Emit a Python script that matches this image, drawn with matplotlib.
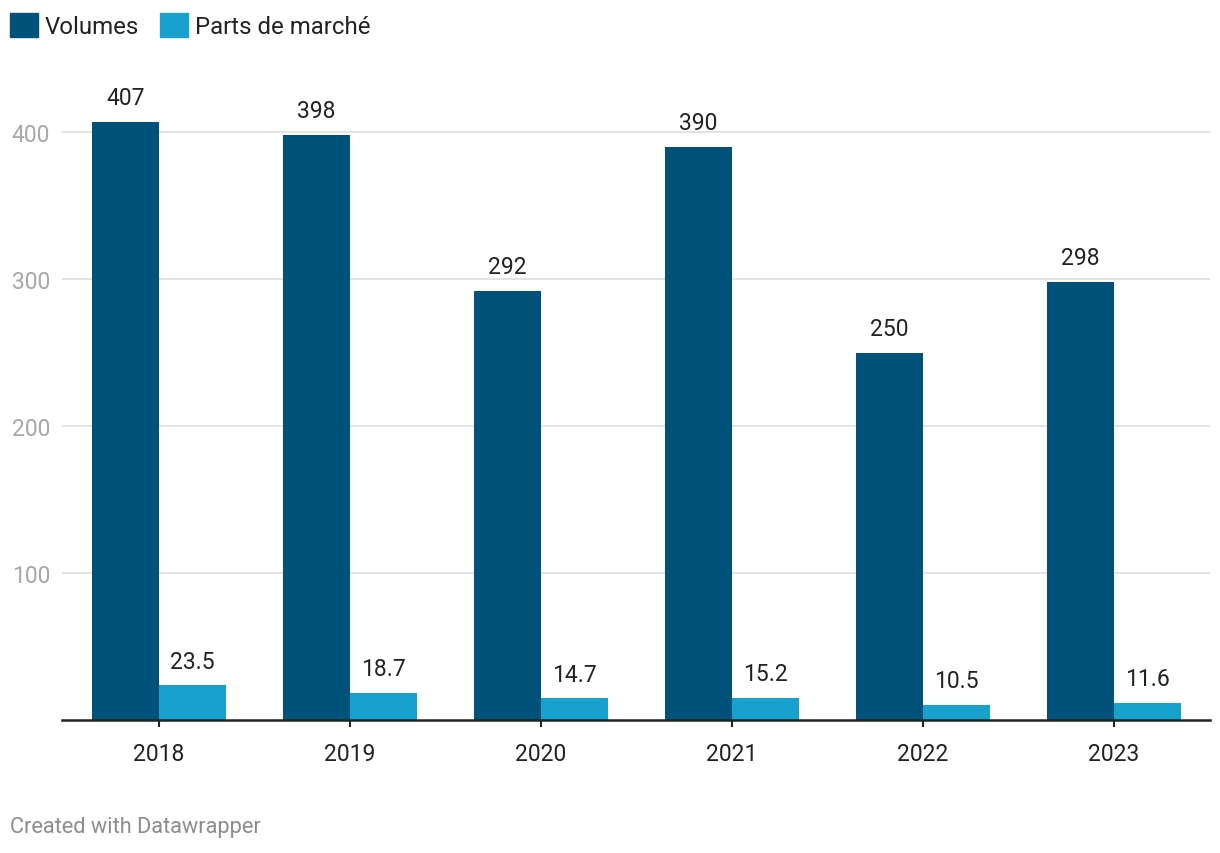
import numpy as np
import matplotlib.pyplot as plt
from matplotlib.patches import Patch

plt.rcParams['font.family'] = ['Roboto', 'DejaVu Sans']

years = ['2018', '2019', '2020', '2021', '2022', '2023']
volumes = [407, 398, 292, 390, 250, 298]
parts = [23.5, 18.7, 14.7, 15.2, 10.5, 11.6]
vol_labels = ['407', '398', '292', '390', '250', '298']
part_labels = ['23.5', '18.7', '14.7', '15.2', '10.5', '11.6']

c_dark = '#00527a'
c_light = '#19a1cd'

fig = plt.figure(figsize=(12.2, 8.54), dpi=100)
ax = fig.add_axes([62 / 1220, 0.1557, (1210 - 62) / 1220, 0.8787 - 0.1557])

x = np.arange(len(years))
w = 0.35
b1 = ax.bar(x - w / 2, volumes, width=w, color=c_dark, zorder=3)
b2 = ax.bar(x + w / 2, parts, width=w, color=c_light, zorder=3)

# etiquettes de valeurs au-dessus des barres
for bars, labs in [(b1, vol_labels), (b2, part_labels)]:
    for rect, lab in zip(bars, labs):
        ax.annotate(lab, (rect.get_x() + rect.get_width() / 2, rect.get_height()),
                    xytext=(0, 9), textcoords='offset points', ha='center', va='bottom',
                    fontsize=16.5, color='#222222', clip_on=False)

ax.set_xlim(-0.508, 5.503)
ax.set_ylim(0, 420)
ax.set_yticks([100, 200, 300, 400])
ax.set_yticklabels(['100', '200', '300', '400'])
ax.set_xticks(x)
ax.set_xticklabels(years)

ax.grid(axis='y', color='#e1e1e1', linewidth=1.3, zorder=0)
for s in ['top', 'right', 'left']:
    ax.spines[s].set_visible(False)
ax.spines['bottom'].set_color('#222222')
ax.spines['bottom'].set_linewidth(1.8)
ax.spines['bottom'].set_zorder(5)

ax.tick_params(axis='y', length=0, pad=8.6, labelsize=16.5, labelcolor='#a8a8a8')
ax.tick_params(axis='x', length=5, width=1.5, color='#222222', pad=11,
               labelsize=16.5, labelcolor='#222222')

handles = [Patch(color=c_dark, label='Volumes'), Patch(color=c_light, label='Parts de marché')]
fig.legend(handles=handles, loc='upper left', bbox_to_anchor=(10 / 1220, 1 - 14 / 854),
           ncol=2, frameon=False, fontsize=17.3, handlelength=1.17, handleheight=1.17,
           handletextpad=0.29, columnspacing=0.87, labelcolor='#222222',
           borderpad=0, borderaxespad=0)

fig.text(10 / 1220, 1 - 828 / 854, 'Created with Datawrapper', fontsize=15.7,
         color='#8c8c8c', va='center', ha='left')

fig.savefig('out.png', dpi=100)
